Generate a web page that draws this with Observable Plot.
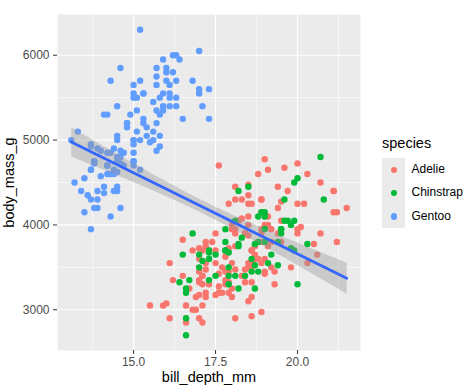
<!DOCTYPE html>
<html><head><meta charset="utf-8">
<script src="https://cdn.jsdelivr.net/npm/d3@7"></script>
<script src="https://cdn.jsdelivr.net/npm/@observablehq/plot@0.6"></script>
<style>
body{margin:0;background:#fff;}
#wrap{position:relative;width:468px;height:392px;font-family:"Liberation Sans",Arial,sans-serif;}
#wrap svg{position:absolute;left:0;top:0;}
g[aria-label="x-axis label"] text, g[aria-label="y-axis label"] text{font-size:14.5px;fill:#000;}
#legend{position:absolute;left:382px;top:136px;}
#legend .title{font-size:14.5px;line-height:1;color:#000;}
#legend .keys{position:absolute;left:0;top:22px;width:23px;height:70px;background:#EBEBEB;}
#legend .row{position:absolute;left:0;height:23.33px;width:90px;}
#legend .dot{position:absolute;left:8.5px;top:8.7px;width:6.2px;height:6.2px;border-radius:50%;}
#legend .lab{position:absolute;left:29.5px;top:0;line-height:23.33px;font-size:12px;color:#000;white-space:nowrap;}
</style></head>
<body><div id="wrap"></div>
<script>
const species = ["Adelie", "Chinstrap", "Gentoo"];
const speciesColors = ["#F8766D", "#00BA38", "#619CFF"];

const adelieDepth = [18.7,17.4,18.0,19.3,20.6,17.8,19.6,18.1,20.2,
17.1,17.3,17.6,21.2,21.1,17.8,19.0,20.7,18.4,21.5,
18.3,18.7,19.2,18.1,17.2,18.9,18.6,17.9,18.6,18.9,
16.7,18.1,17.8,18.9,17.0,21.1,20.0,18.5,19.3,19.1,
18.0,18.4,18.5,19.7,16.9,18.8,19.0,18.9,21.2,17.7,
18.9,17.9,19.5,18.1,18.6,17.5,18.8,16.6,19.1,16.9,
21.1,17.0,18.2,17.1,18.0,16.2,19.1,16.6,19.4,19.0,
18.4,17.2,18.9,17.5,18.5,16.8,19.4,16.1,19.1,17.2,
17.6,18.8,19.4,17.8,20.3,19.5,18.6,19.2,18.8,18.0,
18.1,17.1,18.1,17.3,18.9,18.6,18.5,16.1,18.5,17.9,
20.0,16.0,20.0,18.6,18.9,17.2,20.0,17.0,19.0,16.5,
20.3,17.7,19.5,20.7,18.3,17.0,20.5,17.0,18.6,17.2,
19.8,17.0,18.5,15.9,19.0,17.6,18.3,17.1,18.0,17.9,
19.2,18.5,18.5,17.6,17.5,17.5,20.1,16.5,17.9,17.1,
17.2,15.5,17.0,16.8,18.7,18.6,18.4,17.8,18.1,17.1,
18.5];
const adelieMass = [3750,3800,3250,3450,3650,3625,4675,3475,4250,
3300,3700,3200,3800,4400,3700,3450,4500,3325,4200,
3400,3600,3800,3950,3800,3800,3550,3200,3150,3950,
3250,3900,3300,3900,3325,4150,3950,3550,3300,4650,
3150,3900,3100,4400,3000,4600,3425,2975,4150,3500,
4300,3450,4050,2900,3700,3550,3800,2850,3750,3150,
4400,3600,4050,2850,3950,3350,4100,3050,4450,3600,
3900,3550,4150,3700,4250,3700,3900,3550,4000,3200,
4700,3800,4200,3350,3550,3800,3500,3950,3600,3550,
4300,3400,4450,3300,4300,3700,4350,2900,4100,3725,
4725,3075,4250,2925,3550,3750,3900,3175,4775,3825,
4600,3200,4275,3900,4075,2900,3775,3350,3325,3150,
3500,3450,3875,3050,4000,3275,4300,3050,4000,3325,
3500,3500,4475,3425,3900,3175,3975,3400,4250,3400,
3475,3050,3725,3000,3650,4250,3475,3450,3750,3700,
4000];

const gentooDepth = [13.2,16.3,14.1,15.2,14.5,13.5,14.6,15.3,13.4,15.4,
13.7,16.1,13.7,14.6,14.6,15.7,13.5,15.2,14.5,15.1,
14.3,14.5,14.5,15.8,13.1,15.1,14.3,15.0,14.3,15.3,
15.3,14.2,14.5,17.0,14.8,16.3,13.7,17.3,13.6,15.7,
13.7,16.0,13.7,15.0,15.9,13.9,13.9,15.9,13.3,15.8,
14.2,14.1,14.4,15.0,14.4,15.4,13.9,15.0,14.5,15.3,
13.8,14.9,13.9,15.7,14.2,16.8,14.4,16.2,14.2,15.0,
15.0,15.6,15.6,14.8,15.0,16.0,14.2,16.3,13.8,16.4,
14.5,15.6,14.6,15.9,13.8,17.3,14.4,14.2,14.0,17.0,
15.0,17.1,14.5,16.1,14.7,15.7,15.8,14.6,14.4,16.5,
15.0,17.0,15.5,15.0,13.8,16.1,14.7,15.8,14.0,15.1,
15.2,15.9,15.2,16.3,14.1,16.0,15.7,16.2,13.7,14.3,
15.7,14.8,16.1];
const gentooMass = [4500,5700,4450,5700,5400,4550,4800,5200,4400,5150,
4650,5550,4650,5850,4200,5850,4150,6300,4800,5350,
5700,5000,4400,5050,5000,5100,4100,5650,4600,5550,
5250,4700,5050,6050,5150,5400,4950,5250,4350,5350,
3950,5700,4300,4750,5550,4900,4200,5400,5100,5300,
4850,5300,4400,5000,4900,5050,4300,5000,4450,5550,
4200,5300,4400,5650,4700,5700,4650,5800,4700,5550,
4750,5000,5100,5200,4700,5800,4600,6000,4750,5950,
4625,5450,4725,5350,4750,5600,4600,5300,4875,5550,
4950,5400,4750,5650,4850,5200,4925,4875,4625,5250,
4850,5600,4975,5500,4725,5500,4700,5500,4575,5500,
5000,5950,4650,5500,4375,5850,4875,6000,4925,4850,
5750,5200,5400];

const chinstrapDepth = [17.9,19.5,19.2,18.7,19.8,17.8,18.2,18.2,18.9,19.9,
17.8,20.3,17.3,18.1,17.1,19.6,20.0,17.8,18.6,18.2,
17.3,17.5,16.6,19.4,17.9,19.0,18.4,19.0,17.8,20.0,
16.6,20.8,16.7,18.8,18.6,16.8,18.3,20.7,16.6,19.9,
19.5,17.5,19.1,17.0,17.9,18.5,17.9,19.6,18.7,17.3,
16.4,19.0,17.3,19.7,17.3,18.8,16.6,19.9,18.8,19.4,
19.5,16.5,17.0,19.8,18.1,18.2,19.0,18.7];
const chinstrapMass = [3500,3900,3650,3525,3725,3950,3250,3750,4150,3700,
3800,3775,3700,4050,3575,4050,3300,3700,3450,4400,
3600,3400,2900,3800,3300,4150,3400,3800,3700,4550,
3200,4300,3350,4100,3600,3900,3850,4800,2700,4500,
3950,3650,3550,3500,3675,4450,3400,4300,3250,3675,
3325,3950,3600,4050,3350,3450,3250,4050,3800,3525,
3950,3650,3650,4000,3400,3775,4100,3775];

const xMajor = [15, 17.5, 20];
const xMinor = [13.75, 16.25, 18.75, 21.25];
const yMajor = [3000, 4000, 5000, 6000];
const yMinor = [3500, 4500, 5500];

// data table in drawing order (as in the source data frame)
const data = [];
adelieDepth.forEach((d, i) => data.push({species: "Adelie", depth: d, mass: adelieMass[i]}));
gentooDepth.forEach((d, i) => data.push({species: "Gentoo", depth: d, mass: gentooMass[i]}));
chinstrapDepth.forEach((d, i) => data.push({species: "Chinstrap", depth: d, mass: chinstrapMass[i]}));

const allDepth = data.map(d => d.depth), allMass = data.map(d => d.mass);
const [dx0, dx1] = d3.extent(allDepth), [my0, my1] = d3.extent(allMass);
const ex = (dx1 - dx0) * 0.05, ey = (my1 - my0) * 0.05;

const chart = Plot.plot({
  width: 468, height: 392,
  marginLeft: 57, marginRight: 108, marginTop: 14, marginBottom: 42,
  style: {fontFamily: '"Liberation Sans", Arial, sans-serif', background: "transparent"},
  x: {domain: [dx0 - ex, dx1 + ex]},
  y: {domain: [my0 - ey, my1 + ey]},
  color: {domain: species, range: speciesColors},
  marks: [
    Plot.frame({fill: "#EBEBEB", stroke: "none"}),
    Plot.gridX(xMinor, {stroke: "white", strokeOpacity: 1, strokeWidth: 0.6}),
    Plot.gridY(yMinor, {stroke: "white", strokeOpacity: 1, strokeWidth: 0.6}),
    Plot.gridX(xMajor, {stroke: "white", strokeOpacity: 1, strokeWidth: 1.2}),
    Plot.gridY(yMajor, {stroke: "white", strokeOpacity: 1, strokeWidth: 1.2}),
    Plot.dot(data, {x: "depth", y: "mass", fill: "species", r: 3.2, stroke: "none"}),
    Plot.linearRegressionY(data, {x: "depth", y: "mass", ci: 0.95, stroke: "#3366FF", strokeWidth: 2.8, fill: "#999999", fillOpacity: 0.4}),
    Plot.axisX(xMajor, {tickSize: 4, tickPadding: 3, tickFormat: d3.format(".1f"), fontSize: 12, stroke: "#333333", fill: "#4D4D4D",
      label: "bill_depth_mm", labelAnchor: "center", labelArrow: "none", labelOffset: 31}),
    Plot.axisY(yMajor, {tickSize: 4, tickPadding: 4, tickFormat: d3.format("d"), fontSize: 12, stroke: "#333333", fill: "#4D4D4D",
      label: "body_mass_g", labelAnchor: "center", labelArrow: "none", labelOffset: 54})
  ]
});

const wrap = document.getElementById("wrap");
wrap.appendChild(chart);

// legend
const legend = document.createElement("div");
legend.id = "legend";
let html = '<div class="title">species</div><div class="keys"></div>';
species.forEach((s, i) => {
  html += `<div class="row" style="top:${22 + i * 23.33}px"><div class="dot" style="background:${speciesColors[i]}"></div><div class="lab">${s}</div></div>`;
});
legend.innerHTML = html;
wrap.appendChild(legend);
</script>
</body></html>
